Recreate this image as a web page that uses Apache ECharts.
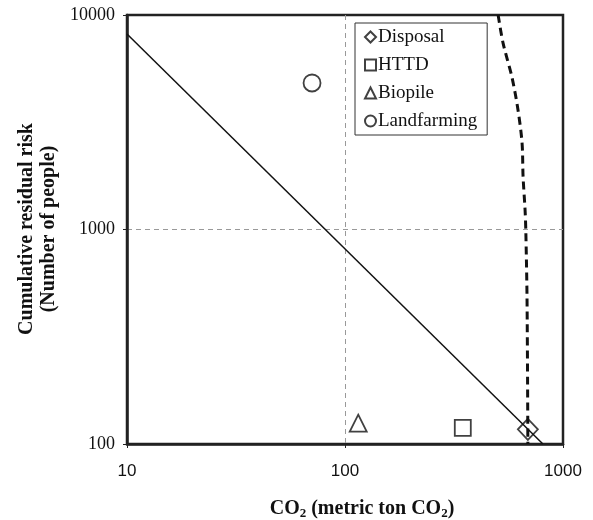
<!DOCTYPE html>
<html>
<head>
<meta charset="utf-8">
<script src="https://cdn.jsdelivr.net/npm/echarts@6/dist/echarts.min.js"></script>
<style>html,body{margin:0;padding:0;background:#fff;}#c{width:593px;height:520px;}</style>
</head>
<body>
<div id="c"></div>
<script>
// Data
const disposal = [[690, 117]];
const httd = [[347, 119]];
const biopile = [[115, 125]];
const landfarming = [[70.6, 4820]];
const fitLine = [[10, 8150], [809, 100]];
const boundary = [[504, 10000], [531, 7400], [583, 5140], [622, 3600], [649, 2530], [656, 1760], [670, 1230], [675, 1000], [684, 470], [690, 100]];
const xTicks = [10, 100, 1000];
const yTicks = [100, 1000, 10000];

const serif = '"Liberation Serif", "Times New Roman", serif';
const sans = '"Liberation Sans", Arial, sans-serif';
const ink = '#111';

function scatter(name, data, symbol, size) {
  return {
    name: name, type: 'scatter', data: data, symbol: symbol, symbolSize: size,
    itemStyle: { color: 'rgba(255,255,255,0)', borderColor: ink, borderWidth: 1.8 },
    z: 5
  };
}

const splitStyle = { show: true, showMinLine: false, showMaxLine: false, lineStyle: { color: '#999', type: [5, 4], width: 1 } };

const chart = echarts.init(document.getElementById('c'), null, { renderer: 'canvas' });
chart.setOption({
  animation: false,
  backgroundColor: '#fff',
  grid: { left: 127, right: 30, top: 15, bottom: 76, show: true, borderColor: '#222', borderWidth: 2.5, backgroundColor: 'transparent' },
  legend: {
    data: ['Disposal', 'HTTD', 'Biopile', 'Landfarming'],
    orient: 'vertical', left: 355, top: 23,
    padding: [4, 10, 4, 9], itemGap: 8,
    itemWidth: 11, itemHeight: 11,
    borderColor: '#333', borderWidth: 1, backgroundColor: '#fff',
    textStyle: { fontFamily: serif, fontSize: 19, color: ink, lineHeight: 20, padding: [0, 0, 0, -3] }
  },
  xAxis: {
    type: 'log', logBase: 10, min: xTicks[0], max: xTicks[2],
    axisLine: { show: true, lineStyle: { color: '#222', width: 2.5 } },
    axisTick: { show: true, length: 4, lineStyle: { color: '#222' } },
    axisLabel: { fontFamily: sans, fontSize: 17, color: ink, margin: 19, formatter: function (v) { return String(Math.round(v)); } },
    splitLine: splitStyle,
    minorTick: { show: false }
  },
  yAxis: {
    type: 'log', logBase: 10, min: yTicks[0], max: yTicks[2],
    axisLine: { show: true, lineStyle: { color: '#222', width: 2.5 } },
    axisTick: { show: true, length: 4, lineStyle: { color: '#222' } },
    axisLabel: { fontFamily: serif, fontSize: 18, color: ink, margin: 12, formatter: function (v) { return String(Math.round(v)); } },
    splitLine: splitStyle
  },
  graphic: [
    {
      type: 'text', x: 38, y: 229, rotation: Math.PI / 2,
      style: {
        text: 'Cumulative residual risk\n(Number of people)',
        font: 'bold 20px ' + serif, fill: ink, align: 'center', verticalAlign: 'middle', lineHeight: 22
      }
    },
    {
      type: 'text', x: 362, y: 509,
      style: {
        text: 'CO{sub|2} (metric ton CO{sub|2})',
        font: 'bold 20px ' + serif, fill: ink, align: 'center', verticalAlign: 'middle',
        rich: { sub: { font: 'bold 13px ' + serif, fill: ink, padding: [9, 0, 0, 0] } }
      }
    }
  ],
  series: [
    {
      name: 'fit', type: 'line', data: fitLine, showSymbol: false, symbol: 'none',
      lineStyle: { color: ink, width: 1.5 }, z: 3, silent: true
    },
    {
      name: 'boundary', type: 'line', data: boundary, showSymbol: false, symbol: 'none', smooth: 0.3,
      lineStyle: { color: ink, width: 3, type: [8, 5] }, z: 3, silent: true
    },
    scatter('Disposal', disposal, 'diamond', [20, 21]),
    scatter('HTTD', httd, 'rect', 16),
    scatter('Biopile', biopile, 'triangle', 17),
    scatter('Landfarming', landfarming, 'circle', 17)
  ]
});
</script>
</body>
</html>
